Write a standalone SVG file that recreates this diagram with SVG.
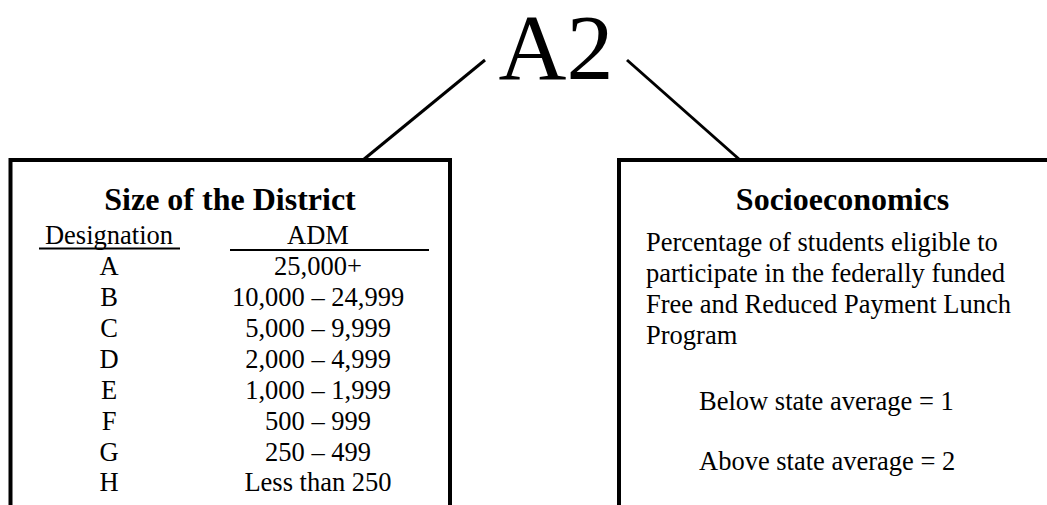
<svg xmlns="http://www.w3.org/2000/svg" width="1047" height="505" viewBox="0 0 1047 505">
<style>
text{font-family:"Liberation Serif","Times New Roman",serif;fill:#000}
.t{font-size:26.5px}
.h{font-size:32px;font-weight:bold;text-anchor:middle}
.c{text-anchor:middle}
.box{fill:none;stroke:#000;stroke-width:4}
.ul{stroke:#000;stroke-width:2}
.con{stroke:#000;stroke-width:3;fill:none}
</style>
<rect width="1047" height="505" fill="#fff"/>
<g id="root">
<text x="556" y="79" class="c" style="font-size:94px">A2</text>
</g>
<g id="connectors">
<line class="con" x1="485" y1="60" x2="363" y2="160"/>
<line class="con" x1="627" y1="60" x2="740" y2="160"/>
</g>
<g id="size-of-district">
<path class="box" d="M10.5,507 V160 H450 V507"/>
<text x="230" y="210" class="h">Size of the District</text>
<text x="109" y="244" class="t c">Designation</text>
<line class="ul" x1="39" y1="248.5" x2="180" y2="248.5"/>
<text x="318" y="244" class="t c">ADM</text>
<line class="ul" x1="230" y1="250" x2="429" y2="250"/>
<g class="t c">
<text x="109" y="275">A</text><text x="318" y="275">25,000+</text>
<text x="109" y="306">B</text><text x="318" y="306">10,000 – 24,999</text>
<text x="109" y="337">C</text><text x="318" y="337">5,000 – 9,999</text>
<text x="109" y="368">D</text><text x="318" y="368">2,000 – 4,999</text>
<text x="109" y="399">E</text><text x="318" y="399">1,000 – 1,999</text>
<text x="109" y="430">F</text><text x="318" y="430">500 – 999</text>
<text x="109" y="460.5">G</text><text x="318" y="460.5">250 – 499</text>
<text x="109" y="491">H</text><text x="318" y="491">Less than 250</text>
</g>
</g>
<g id="socioeconomics">
<path class="box" d="M619,507 V160 H1049"/>
<text x="842.5" y="210" class="h">Socioeconomics</text>
<g class="t">
<text x="646" y="251">Percentage of students eligible to</text>
<text x="646" y="282">participate in the federally funded</text>
<text x="646" y="313">Free and Reduced Payment Lunch</text>
<text x="646" y="344">Program</text>
<text x="699" y="410">Below state average = 1</text>
<text x="699" y="470">Above state average = 2</text>
</g>
</g>
</svg>
